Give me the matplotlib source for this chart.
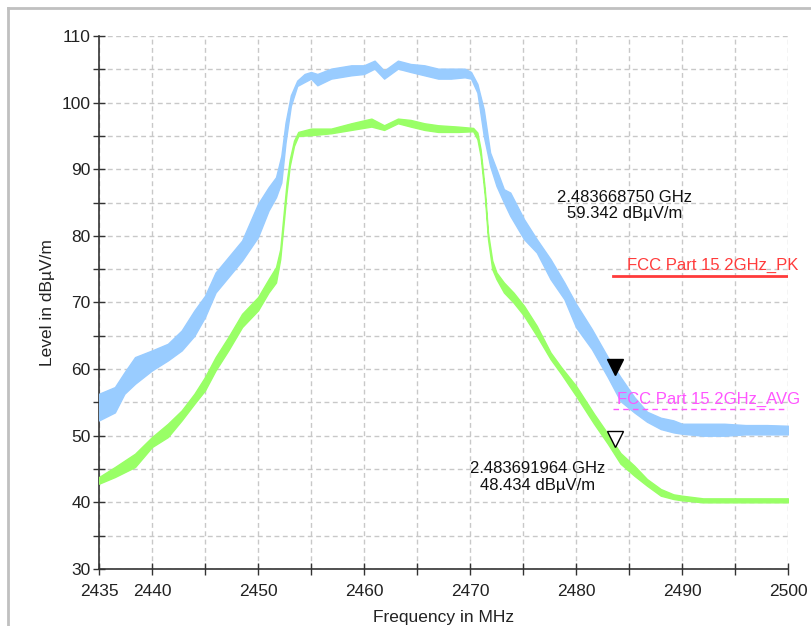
import numpy as np
import matplotlib.pyplot as plt
from matplotlib.lines import Line2D
from matplotlib import transforms

plt.rcParams['font.family'] = ['Liberation Sans', 'DejaVu Sans']

# peak trace (blue): band, low / high edge in dBuV/m
pk_freq = [2435, 2436.5, 2437.4, 2438.4, 2440, 2441.5, 2442.8, 2444, 2445, 2446,
           2447.2, 2448.5, 2450, 2451, 2451.7, 2452.2, 2452.6, 2453.1, 2453.7, 2454.4,
           2455, 2455.6, 2456.9, 2458.8, 2460, 2461, 2461.9, 2463.2, 2464.4, 2465.7,
           2467, 2468.2, 2469.5, 2470.1, 2470.7, 2471.3, 2471.9, 2472.5, 2473.2, 2473.8,
           2475.1, 2476.3, 2477.6, 2478.9, 2480, 2481.5, 2483, 2484.2, 2485.5, 2486.7,
           2488, 2489.2, 2490, 2492, 2494, 2496, 2498, 2500]
pk_hi = [56.3, 57.3, 59.5, 61.8, 62.8, 63.8, 65.8, 68.8, 71.0, 74.5,
         76.8, 79.3, 84.8, 87.3, 88.8, 92.0, 97.0, 101.1, 103.3, 104.3,
         104.6, 104.3, 105.1, 105.6, 105.6, 106.3, 104.8, 106.3, 105.8, 105.6,
         105.1, 105.1, 105.1, 104.6, 102.8, 99.0, 92.5, 90.0, 87.0, 86.5,
         82.5, 79.5, 76.5, 73.0, 69.8, 66.0, 61.8, 58.8, 55.8, 53.6,
         52.7, 52.3, 51.8, 51.8, 51.8, 51.6, 51.6, 51.5]
pk_lo = [52.3, 53.5, 56.3, 57.8, 59.8, 61.3, 62.8, 65.0, 67.8, 71.5,
         73.8, 76.3, 79.8, 83.8, 85.8, 88.0, 94.0, 99.5, 102.5, 103.1,
         103.6, 102.6, 103.6, 104.1, 104.3, 105.1, 103.6, 105.1, 104.6, 104.1,
         103.6, 103.6, 103.8, 103.6, 101.5, 95.0, 90.5, 87.5, 85.0, 83.0,
         79.5, 77.5, 73.5, 70.5, 66.3, 63.0, 58.8, 55.2, 53.5, 52.1,
         51.0, 50.5, 50.3, 50.0, 50.0, 50.2, 50.2, 50.2]

# average trace (green)
av_freq = [2435, 2436.5, 2438.4, 2440, 2441.5, 2442.8, 2444, 2445, 2446, 2447.2,
           2448.5, 2450, 2451, 2451.7, 2452.1, 2452.4, 2452.7, 2453, 2453.4, 2453.8,
           2455, 2456.9, 2458.8, 2460.7, 2461.9, 2463.2, 2464.4, 2465.7, 2467, 2468.9,
           2470.3, 2470.7, 2471, 2471.4, 2471.7, 2472.1, 2472.5, 2473.2, 2474.1, 2475.1,
           2476.3, 2477.6, 2478.6, 2480, 2481.7, 2483, 2484.2, 2485.5, 2486.7, 2488,
           2489.2, 2490, 2492, 2494, 2496, 2498, 2500]
av_hi = [43.8, 45.3, 47.3, 49.8, 51.8, 53.8, 56.3, 58.8, 61.8, 64.8,
         68.3, 70.8, 73.5, 75.3, 78.0, 83.0, 88.0, 91.5, 94.3, 95.6,
         96.1, 96.1, 96.9, 97.6, 96.6, 97.6, 97.4, 96.9, 96.6, 96.4,
         96.2, 95.5, 93.0, 87.0, 80.5, 76.3, 74.5, 73.0, 71.5, 69.5,
         66.5, 62.5, 60.3, 57.5, 53.3, 50.3, 47.4, 45.5, 43.5, 42.0,
         41.2, 41.0, 40.6, 40.6, 40.6, 40.6, 40.6]
av_lo = [42.8, 43.8, 45.3, 48.3, 49.8, 52.3, 54.8, 56.8, 59.8, 62.8,
         66.3, 68.8, 71.5, 73.0, 76.5, 81.5, 86.5, 90.5, 93.5, 95.0,
         95.1, 95.4, 95.9, 96.4, 95.9, 96.9, 96.4, 95.9, 95.6, 95.6,
         95.7, 94.5, 92.0, 86.0, 79.5, 75.0, 73.5, 71.5, 70.0, 68.0,
         65.0, 61.5, 59.3, 56.0, 51.8, 48.8, 45.8, 44.0, 42.5, 41.0,
         40.5, 40.3, 40.0, 40.0, 40.0, 40.0, 40.0]

# limit lines
lim_freq = [2483.5, 2500]
lim_pk = [74, 74]
lim_av = [54, 54]

# markers
m1 = (2483.668750, 59.342)
m2 = (2483.691964, 48.434)

fig = plt.figure(figsize=(8.12, 6.26), dpi=100)
ax = fig.add_axes([0.1219, 0.0911, 0.8485, 0.8514])

blue = '#99ccff'
green = '#99ff66'
ax.fill_between(pk_freq, pk_lo, pk_hi, color=blue, lw=1, zorder=3)
ax.fill_between(av_freq, av_lo, av_hi, color=green, lw=1, zorder=4)

ax.plot(lim_freq, lim_pk, color='#ff3b3b', lw=2, zorder=5)
ax.plot(lim_freq, lim_av, color='#ff55ff', lw=1, dashes=(4, 3), zorder=5)
ax.text(2484.8, 74.4, 'FCC Part 15 2GHz_PK', color='#ff3b3b', fontsize=12,
        ha='left', va='bottom', zorder=6)
ax.text(2483.9, 54.3, 'FCC Part 15 2GHz_AVG', color='#ff55ff', fontsize=12,
        ha='left', va='bottom', zorder=6)

# marker triangles sit with their tip on the point
up = transforms.offset_copy(ax.transData, fig=fig, x=0, y=5, units='points')
ax.plot(m1[0], m1[1], marker='v', ms=11, color='black', transform=up, zorder=7)
ax.plot(m2[0], m2[1], marker='v', ms=11, mfc='white', mec='black', mew=1,
        transform=up, zorder=7)
ax.text(2484.6, 84.6, '%.9f GHz\n%.3f dBµV/m' % (m1[0] / 1000, m1[1]),
        ha='center', va='center', fontsize=12, color='#111111', linespacing=1.1, zorder=6)
ax.text(2476.4, 43.8, '%.9f GHz\n%.3f dBµV/m' % (m2[0] / 1000, m2[1]),
        ha='center', va='center', fontsize=12, color='#111111', linespacing=1.1, zorder=6)

ax.set_xlim(2435, 2500)
ax.set_ylim(30, 110)
xt = np.arange(2435, 2501, 5)
ax.set_xticks(xt)
ax.set_xticklabels([str(v) if (v % 10 == 0 or v == 2435) else '' for v in xt])
yt = np.arange(30, 111, 5)
ax.set_yticks(yt)
ax.set_yticklabels([str(v) if v % 10 == 0 else '' for v in yt])
ax.tick_params(direction='inout', length=8, width=1, color='#333333',
               labelsize=12.5, labelcolor='#222222')
ax.tick_params(axis='x', pad=7)
ax.tick_params(axis='y', pad=2)
ax.grid(True, color='#c8c8c8', lw=1, dashes=(3.5, 2.5))
ax.set_axisbelow(True)
for s in ['top', 'right']:
    ax.spines[s].set_visible(False)
for s in ['left', 'bottom']:
    ax.spines[s].set_color('#333333')
    ax.spines[s].set_linewidth(1.2)

ax.set_xlabel('Frequency in MHz', fontsize=12.5, color='#222222', labelpad=8)
ax.set_ylabel('Level in dBµV/m', fontsize=12.5, color='#222222', labelpad=5)

# window frame
fig.add_artist(Line2D([8 / 812, 8 / 812], [0, 1 - 8 / 626], color='#c0c0c0', lw=2))
fig.add_artist(Line2D([8 / 812, 1], [1 - 8 / 626, 1 - 8 / 626], color='#c0c0c0', lw=2))

fig.savefig('out.png', dpi=100)
